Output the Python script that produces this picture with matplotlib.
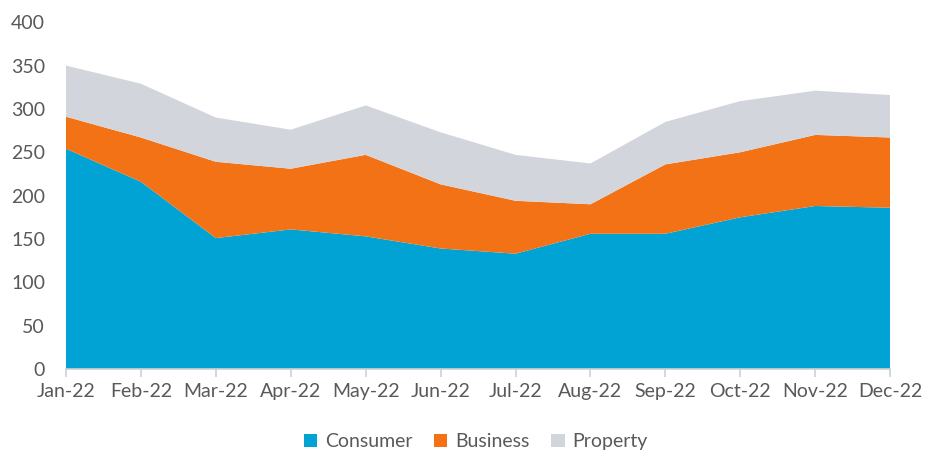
import matplotlib.pyplot as plt
import numpy as np

months = ['Jan-22', 'Feb-22', 'Mar-22', 'Apr-22', 'May-22', 'Jun-22',
          'Jul-22', 'Aug-22', 'Sep-22', 'Oct-22', 'Nov-22', 'Dec-22']
consumer = [254, 216, 151, 161, 153, 139, 133, 156, 156, 175, 188, 186]
business = [37, 51, 88, 70, 94, 74, 61, 34, 80, 75, 82, 81]
property_ = [59, 62, 51, 45, 57, 60, 53, 47, 49, 59, 51, 49]

plt.rcParams['font.family'] = ['Lato', 'DejaVu Sans']
txt = '#595959'

fig = plt.figure(figsize=(9.45, 4.72), dpi=100)
ax = fig.add_axes([0.0698, 0.2182, 0.8722, 0.7348])

x = np.arange(len(months))
ax.stackplot(x, consumer, business, property_,
             colors=['#00A3D4', '#F47216', '#D2D5DC'],
             labels=['Consumer', 'Business', 'Property'])

ax.set_xlim(0, len(months) - 1)
ax.set_ylim(0, 400)
ax.set_yticks(range(0, 401, 50))
ax.set_xticks(x)
ax.set_xticklabels(months)

for s in ['top', 'right', 'left']:
    ax.spines[s].set_visible(False)
ax.spines['bottom'].set_color('#D0D0D0')
ax.spines['bottom'].set_linewidth(1.2)
ax.tick_params(axis='x', colors='#D0D0D0', length=6, width=1.2, labelcolor=txt,
               labelsize=14, pad=4)
ax.tick_params(axis='y', length=0, labelcolor=txt, labelsize=14, pad=15)

leg = ax.legend(loc='upper center', bbox_to_anchor=(0.497, -0.135), ncol=3,
                frameon=False, fontsize=14, handlelength=0.7, handleheight=0.7,
                handletextpad=0.4, columnspacing=1.1)
for t in leg.get_texts():
    t.set_color(txt)

fig.savefig('out.png', dpi=100)
